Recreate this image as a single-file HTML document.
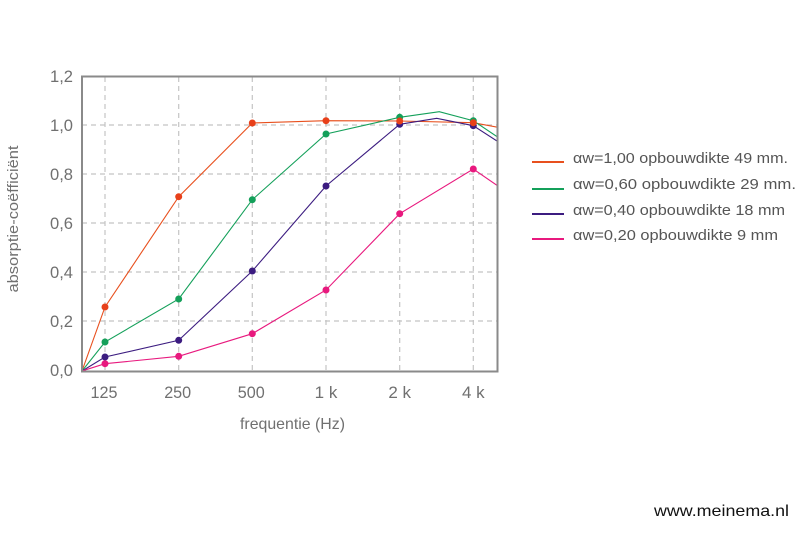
<!DOCTYPE html>
<html><head><meta charset="utf-8"><style>
html,body{margin:0;padding:0;background:#fff;}
svg{display:block;}
</style></head><body>
<svg width="800" height="533" viewBox="0 0 800 533" xmlns="http://www.w3.org/2000/svg">
<rect width="800" height="533" fill="#fff"/>
<g stroke="#c4c4c4" stroke-width="1.2" stroke-dasharray="5,4" fill="none">
<line x1="82" y1="125" x2="497" y2="125"/>
<line x1="82" y1="174" x2="497" y2="174"/>
<line x1="82" y1="223" x2="497" y2="223"/>
<line x1="82" y1="272" x2="497" y2="272"/>
<line x1="82" y1="321" x2="497" y2="321"/>
<line x1="105" y1="77" x2="105" y2="371"/>
<line x1="178.7" y1="77" x2="178.7" y2="371"/>
<line x1="252.3" y1="77" x2="252.3" y2="371"/>
<line x1="326" y1="77" x2="326" y2="371"/>
<line x1="399.7" y1="77" x2="399.7" y2="371"/>
<line x1="473.3" y1="77" x2="473.3" y2="371"/>
</g>
<defs><clipPath id="c"><rect x="82" y="60" width="416" height="312"/></clipPath></defs>
<g clip-path="url(#c)" fill="none" stroke-width="1.1">
<polyline stroke="#e8501e" points="82,371 105,307 178.7,196.7 252.3,123 326,120.7 399.7,121 473.3,122.7 498,127.3"/>
<polyline stroke="#14a05a" points="82,371 105,342 178.7,299 252.3,199.7 326,134 399.7,117.3 439.3,111.7 473.3,120.7 498,137.3"/>
<polyline stroke="#3c1c80" points="82,371 105,357 178.7,340.3 252.3,271 326,186 399.7,124.3 436.7,118.3 473.3,125.7 498,141.7"/>
<polyline stroke="#e8197e" points="82,371 105,363.7 178.7,356.3 252.3,333.7 326,290 399.7,213.7 473.3,169 498,186"/>
</g>
<g fill="#e8401a">
<circle cx="105" cy="307" r="3.5"/><circle cx="178.7" cy="196.7" r="3.5"/><circle cx="252.3" cy="123" r="3.5"/><circle cx="326" cy="120.7" r="3.5"/>
</g>
<g fill="#14a05a">
<circle cx="105" cy="342" r="3.5"/><circle cx="178.7" cy="299" r="3.5"/><circle cx="252.3" cy="199.7" r="3.5"/><circle cx="326" cy="134" r="3.5"/><circle cx="399.7" cy="117.3" r="3.5"/><circle cx="473.3" cy="120.7" r="3.5"/>
</g>
<g fill="#3c1c80">
<circle cx="105" cy="357" r="3.5"/><circle cx="178.7" cy="340.3" r="3.5"/><circle cx="252.3" cy="271" r="3.5"/><circle cx="326" cy="186" r="3.5"/><circle cx="399.7" cy="124.3" r="3.5"/><circle cx="473.3" cy="125.7" r="3.5"/>
</g>
<g fill="#e8401a">
<circle cx="399.7" cy="121" r="3.5"/><circle cx="473.3" cy="122.7" r="3.5"/>
</g>
<g fill="#e8197e">
<circle cx="105" cy="363.7" r="3.5"/><circle cx="178.7" cy="356.3" r="3.5"/><circle cx="252.3" cy="333.7" r="3.5"/><circle cx="326" cy="290" r="3.5"/><circle cx="399.7" cy="213.7" r="3.5"/><circle cx="473.3" cy="169" r="3.5"/>
</g>
<rect x="82" y="76.5" width="415.5" height="295" fill="none" stroke="#8a8a8a" stroke-width="2"/>
<g font-family="Liberation Sans, sans-serif" font-size="17" fill="#707070" text-anchor="end">
<text x="73" y="82" textLength="23" lengthAdjust="spacingAndGlyphs">1,2</text>
<text x="73" y="131" textLength="23" lengthAdjust="spacingAndGlyphs">1,0</text>
<text x="73" y="180" textLength="23" lengthAdjust="spacingAndGlyphs">0,8</text>
<text x="73" y="229" textLength="23" lengthAdjust="spacingAndGlyphs">0,6</text>
<text x="73" y="278" textLength="23" lengthAdjust="spacingAndGlyphs">0,4</text>
<text x="73" y="327" textLength="23" lengthAdjust="spacingAndGlyphs">0,2</text>
<text x="73" y="376" textLength="23" lengthAdjust="spacingAndGlyphs">0,0</text>
</g>
<g font-family="Liberation Sans, sans-serif" font-size="17" fill="#707070" text-anchor="middle">
<text x="104" y="398" textLength="27" lengthAdjust="spacingAndGlyphs">125</text>
<text x="177.7" y="398" textLength="27" lengthAdjust="spacingAndGlyphs">250</text>
<text x="251.3" y="398" textLength="27" lengthAdjust="spacingAndGlyphs">500</text>
<text x="326" y="398">1 k</text>
<text x="399.7" y="398">2 k</text>
<text x="473.3" y="398">4 k</text>
<text x="292.5" y="429" font-size="16" textLength="105" lengthAdjust="spacingAndGlyphs">frequentie (Hz)</text>
<text x="0" y="0" font-size="15" transform="translate(18,219) rotate(-90)" textLength="147" lengthAdjust="spacingAndGlyphs">absorptie-coëfficiënt</text>
</g>
<g stroke-width="2">
<line x1="532" y1="162" x2="564" y2="162" stroke="#e8501e"/>
<line x1="532" y1="189" x2="564" y2="189" stroke="#14a05a"/>
<line x1="532" y1="214" x2="564" y2="214" stroke="#3c1c80"/>
<line x1="532" y1="239" x2="564" y2="239" stroke="#e8197e"/>
</g>
<g font-family="Liberation Sans, sans-serif" font-size="14.5" fill="#555">
<text x="573" y="163" textLength="215" lengthAdjust="spacingAndGlyphs">αw=1,00 opbouwdikte 49 mm.</text>
<text x="573" y="189" textLength="223" lengthAdjust="spacingAndGlyphs">αw=0,60 opbouwdikte 29 mm.</text>
<text x="573" y="215" textLength="212" lengthAdjust="spacingAndGlyphs">αw=0,40 opbouwdikte 18 mm</text>
<text x="573" y="240" textLength="205" lengthAdjust="spacingAndGlyphs">αw=0,20 opbouwdikte 9 mm</text>
</g>
<text x="654" y="516" font-family="Liberation Sans, sans-serif" font-size="16" fill="#111" textLength="135" lengthAdjust="spacingAndGlyphs">www.meinema.nl</text>
</svg>
</body></html>
